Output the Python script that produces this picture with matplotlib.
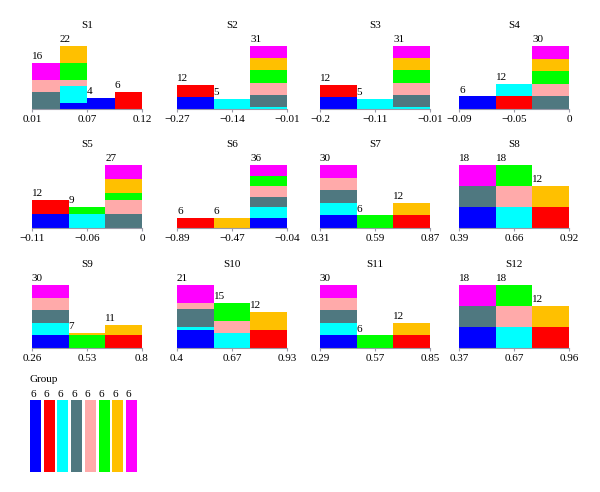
import matplotlib
import numpy as np
import matplotlib.pyplot as plt

matplotlib.use('Agg')
plt.rcParams['font.family'] = ['Liberation Serif', 'DejaVu Serif']

W, H = 600, 492
fig = plt.figure(figsize=(6.0, 4.92), dpi=100)

colorset = ['#0000ff', '#ff0000', '#00ffff', '#4f7880',
            '#ffaaaa', '#00ff00', '#ffc000', '#ff00ff']
titles = ['S%d' % (i + 1) for i in range(12)]

ticklabels = [
    ['0.01', '0.07', '0.12'],
    ['\u22120.27', '\u22120.14', '\u22120.01'],
    ['\u22120.2', '\u22120.11', '\u22120.01'],
    ['\u22120.09', '\u22120.05', '0'],
    ['\u22120.11', '\u22120.06', '0'],
    ['\u22120.89', '\u22120.47', '\u22120.04'],
    ['0.31', '0.59', '0.87'],
    ['0.39', '0.66', '0.92'],
    ['0.26', '0.53', '0.8'],
    ['0.4', '0.67', '0.93'],
    ['0.29', '0.57', '0.85'],
    ['0.37', '0.67', '0.96'],
]
ranges = [
    (0.01, 0.12), (-0.27, -0.01), (-0.2, -0.01), (-0.09, 0.0),
    (-0.11, 0.0), (-0.89, -0.04), (0.31, 0.87), (0.39, 0.92),
    (0.26, 0.8), (0.4, 0.93), (0.29, 0.85), (0.37, 0.96),
]

# counts per group (blue, red, cyan, slate, pink, green, orange, magenta) per bin
s1 = [[0, 2, 4, 0], [0, 0, 0, 6], [0, 6, 0, 0], [6, 0, 0, 0],
      [4, 2, 0, 0], [0, 6, 0, 0], [0, 6, 0, 0], [6, 0, 0, 0]]
s2 = [[6, 0, 0], [6, 0, 0], [0, 5, 1], [0, 0, 6],
      [0, 0, 6], [0, 0, 6], [0, 0, 6], [0, 0, 6]]
s3 = [[6, 0, 0], [6, 0, 0], [0, 5, 1], [0, 0, 6],
      [0, 0, 6], [0, 0, 6], [0, 0, 6], [0, 0, 6]]
s4 = [[6, 0, 0], [0, 6, 0], [0, 6, 0], [0, 0, 6],
      [0, 0, 6], [0, 0, 6], [0, 0, 6], [0, 0, 6]]
s5 = [[6, 0, 0], [6, 0, 0], [0, 6, 0], [0, 0, 6],
      [0, 0, 6], [0, 3, 3], [0, 0, 6], [0, 0, 6]]
s6 = [[0, 0, 6], [6, 0, 0], [0, 0, 6], [0, 0, 6],
      [0, 0, 6], [0, 0, 6], [0, 6, 0], [0, 0, 6]]
s7 = [[6, 0, 0], [0, 0, 6], [6, 0, 0], [6, 0, 0],
      [6, 0, 0], [0, 6, 0], [0, 0, 6], [6, 0, 0]]
s8 = [[6, 0, 0], [0, 0, 6], [0, 6, 0], [6, 0, 0],
      [0, 6, 0], [0, 6, 0], [0, 0, 6], [6, 0, 0]]
s9 = [[6, 0, 0], [0, 0, 6], [6, 0, 0], [6, 0, 0],
      [6, 0, 0], [0, 6, 0], [0, 1, 5], [6, 0, 0]]
s10 = [[6, 0, 0], [0, 0, 6], [1, 5, 0], [6, 0, 0],
       [2, 4, 0], [0, 6, 0], [0, 0, 6], [6, 0, 0]]
s11 = [[6, 0, 0], [0, 0, 6], [6, 0, 0], [6, 0, 0],
       [6, 0, 0], [0, 6, 0], [0, 0, 6], [6, 0, 0]]
s12 = [[6, 0, 0], [0, 0, 6], [0, 6, 0], [6, 0, 0],
       [0, 6, 0], [0, 6, 0], [0, 0, 6], [6, 0, 0]]
panels = [s1, s2, s3, s4, s5, s6, s7, s8, s9, s10, s11, s12]

group_counts = [6, 6, 6, 6, 6, 6, 6, 6]

# layout in pixels
col_left = [32, 177, 320, 459]
row_base = [109, 228, 348]
AX_W, AX_H = 110, 63
FS = 8
axis_color = '#9a9aa8'

for k, counts in enumerate(panels):
    r, c = divmod(k, 4)
    ax = fig.add_axes([col_left[c] / W, 1 - row_base[r] / H,
                       AX_W / W, AX_H / H])
    counts = np.array(counts)
    lo, hi = ranges[k]
    nb = counts.shape[1]
    edges = np.linspace(lo, hi, nb + 1)
    width = edges[1] - edges[0]
    bottom = np.zeros(nb)
    for g in range(8):
        ax.bar(edges[:-1], counts[g], width=width, bottom=bottom,
               align='edge', color=colorset[g], linewidth=0)
        bottom += counts[g]
    for b in range(nb):
        ax.text(edges[b], bottom[b] + 0.03 * bottom.max(), str(int(bottom[b])),
                ha='left', va='bottom', fontsize=FS, clip_on=False)
    ax.set_xlim(lo, hi)
    ax.set_ylim(0, bottom.max())
    ax.set_xticks([lo, (lo + hi) / 2, hi])
    ax.set_xticklabels(ticklabels[k], fontsize=FS)
    ax.set_yticks([])
    for s in ['top', 'left', 'right']:
        ax.spines[s].set_visible(False)
    ax.spines['bottom'].set_color(axis_color)
    ax.spines['bottom'].set_linewidth(0.8)
    ax.tick_params(axis='x', length=2.5, width=0.8, color=axis_color, pad=2)
    ax.set_title(titles[k], fontsize=FS, pad=13)

# group legend
lax = fig.add_axes([30 / W, 1 - 472 / H, 107 / W, 72 / H])
xpos = np.arange(8)
lax.bar(xpos, group_counts, width=0.81, color=colorset, linewidth=0)
for i in range(8):
    lax.text(xpos[i] - 0.405, group_counts[i] + 0.12, str(group_counts[i]),
             ha='left', va='bottom', fontsize=FS, clip_on=False)
lax.set_xlim(-0.405, 7.405)
lax.set_ylim(0, 6)
lax.axis('off')
fig.text(30 / W, 1 - 380 / H, 'Group', ha='left', va='center', fontsize=FS)

fig.savefig('out.png', dpi=100)
